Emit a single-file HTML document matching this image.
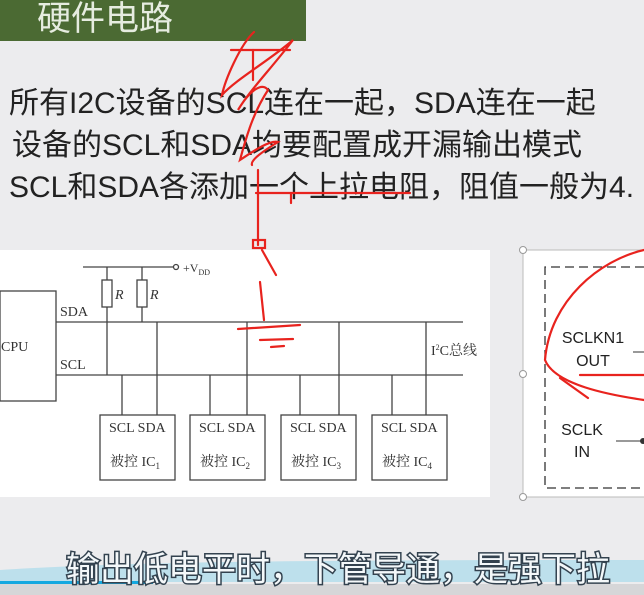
<!DOCTYPE html>
<html><head><meta charset="utf-8"><style>
body{margin:0;width:644px;height:595px;overflow:hidden;background:#ececee;position:relative;font-family:"Liberation Sans","Noto Sans CJK SC",sans-serif}
.t{position:absolute;white-space:nowrap;color:#222;font-size:30px;line-height:36px}
</style></head><body>
<div style="position:absolute;left:0;top:0;width:306px;height:41px;background:#4b6a33"></div>
<div class="t" style="left:37px;top:-1px;font-size:34px;line-height:40px;color:#e6ece0">硬件电路</div>
<div class="t" style="left:9px;top:86px">所有I2C设备的SCL连在一起，SDA连在一起</div>
<div class="t" style="left:12px;top:128px">设备的SCL和SDA均要配置成开漏输出模式</div>
<div style="position:absolute;left:0;top:170px;width:644px;height:40px;overflow:hidden"><div class="t" style="left:9px;top:0">SCL和SDA各添加一个上拉电阻，阻值一般为4.</div></div>
<svg width="644" height="595" style="position:absolute;left:0;top:0" font-family="Liberation Serif,Noto Serif CJK SC,serif">
<rect x="0" y="250" width="490" height="247" fill="#fff"/>
<g stroke="#444" stroke-width="1.3" fill="none">
<line x1="83" y1="267" x2="173" y2="267"/><circle cx="176" cy="267" r="2.5"/>
<rect x="0" y="291" width="56" height="110"/>
<line x1="56" y1="322" x2="463" y2="322"/><line x1="56" y1="375" x2="463" y2="375"/>
<line x1="107" y1="267" x2="107" y2="375"/><line x1="142" y1="267" x2="142" y2="322"/>
<rect x="102" y="280" width="10" height="27" fill="#fff"/><rect x="137" y="280" width="10" height="27" fill="#fff"/>
<line x1="157" y1="322" x2="157" y2="415"/><line x1="247" y1="322" x2="247" y2="415"/><line x1="339" y1="322" x2="339" y2="415"/><line x1="426" y1="322" x2="426" y2="415"/>
<line x1="122" y1="375" x2="122" y2="415"/><line x1="210" y1="375" x2="210" y2="415"/><line x1="300" y1="375" x2="300" y2="415"/><line x1="392" y1="375" x2="392" y2="415"/>
<rect x="100" y="415" width="75" height="65"/><rect x="190" y="415" width="75" height="65"/><rect x="281" y="415" width="75" height="65"/><rect x="372" y="415" width="75" height="65"/>
</g>
<g fill="#333" font-size="14">
<text x="183" y="272" font-size="12">+V<tspan font-size="8" dy="3">DD</tspan></text>
<text x="115" y="299" font-style="italic">R</text><text x="150" y="299" font-style="italic">R</text>
<text x="60" y="316">SDA</text><text x="60" y="369">SCL</text><text x="1" y="351">CPU</text>
<text x="431" y="355">I<tspan font-size="8" dy="-5">2</tspan><tspan dy="5">C总线</tspan></text>
<text x="109" y="432">SCL SDA</text><text x="199" y="432">SCL SDA</text><text x="290" y="432">SCL SDA</text><text x="381" y="432">SCL SDA</text>
<text x="110" y="466">被控 IC<tspan font-size="9" dy="3">1</tspan></text><text x="200" y="466">被控 IC<tspan font-size="9" dy="3">2</tspan></text><text x="291" y="466">被控 IC<tspan font-size="9" dy="3">3</tspan></text><text x="382" y="466">被控 IC<tspan font-size="9" dy="3">4</tspan></text>
</g>
<rect x="523" y="250" width="130" height="247" fill="#fff" stroke="#bbb"/>
<circle cx="523" cy="250" r="3.5" fill="#fff" stroke="#999"/><circle cx="523" cy="374" r="3.5" fill="#fff" stroke="#999"/><circle cx="523" cy="497" r="3.5" fill="#fff" stroke="#999"/>
<path d="M644 267 H545 V488 H644" fill="none" stroke="#333" stroke-width="1.3" stroke-dasharray="9,5"/>
<line x1="633" y1="352" x2="644" y2="352" stroke="#333"/><line x1="616" y1="441" x2="644" y2="441" stroke="#333"/><circle cx="643" cy="441" r="3" fill="#333"/>
<g font-family="Liberation Sans,sans-serif" font-size="16" fill="#222" text-anchor="middle">
<text x="593" y="343">SCLKN1</text><text x="593" y="366">OUT</text><text x="582" y="435">SCLK</text><text x="582" y="457">IN</text></g>
<g stroke="#e8231e" stroke-width="2.2" fill="none" stroke-linecap="round">
<path d="M254 32 C240 45 225 80 222 95 C235 80 270 60 293 40 C270 70 250 90 238 110 C250 90 262 82 268 90 C255 110 248 130 240 160 C255 150 270 140 278 142 C265 150 250 160 252 165"/>
<path d="M231 50 H290"/><path d="M253 50 V80"/>
<path d="M258 170 V245"/><path d="M256 193 H410"/><path d="M291 193 V203"/>
<rect x="253" y="240" width="12" height="8"/><path d="M262 250 L276 275"/><path d="M260 282 L264 320"/>
<path d="M238 329 L300 325"/><path d="M260 340 L293 339"/><path d="M271 347 L284 346"/>
<path d="M644 250 C600 260 550 300 545 360 C555 385 610 395 644 400"/><path d="M560 378 L588 398"/><path d="M580 375 H644"/>
</g>
<path d="M0 570 C150 560 400 560 644 560 V582 H0Z" fill="#bde0ec"/>
<rect x="0" y="584" width="644" height="11" fill="#d6d6d8"/>
<rect x="0" y="581" width="153" height="3" fill="#14a8e0"/>
<text x="66" y="581" font-family="Liberation Sans,Noto Sans CJK SC,sans-serif" font-size="34" fill="#f4f8fa" stroke="#33424f" stroke-width="3" paint-order="stroke">输出低电平时，下管导通，是强下拉</text>
</svg>
</body></html>
